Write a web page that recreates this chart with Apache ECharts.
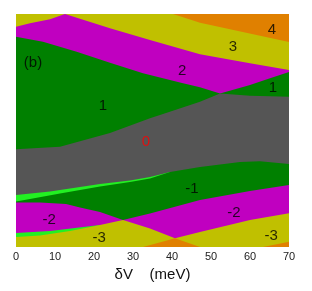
<!DOCTYPE html>
<html><head><meta charset="utf-8">
<script src="https://cdn.jsdelivr.net/npm/echarts@6/dist/echarts.min.js"></script>
<style>html,body{margin:0;padding:0;background:#fff}#c{width:312px;height:291px}</style>
</head><body><div id="c"></div>
<script>
// x in meV, y in arbitrary units (0 = bottom, 233 = top of panel)
const xTicks = [0, 10, 20, 30, 40, 50, 60, 70];
// upper edge of each region (region fills down to bottom, later ones paint over)
const top4   = [[0,233],[70,233]];
const top3   = [[0,233],[40.26,233],[47.18,224.3],[58.72,214.5],[70,205]];
const top2   = [[0,220.3],[3.59,223.7],[8.72,227.7],[12.56,233],[24.10,218.7],[34.36,207],[47.18,192.7],[60,183.7],[70,177]];
const top1   = [[0,210.3],[6.92,205.3],[15.56,195.3],[24.10,184.3],[32.56,173.7],[42.56,164],[47.18,159.7],[52.31,153.5],[60,162],[65.13,168.7],[70,175]];
const top0   = [[0,97.7],[11.28,100.3],[24.10,114],[34.36,128.7],[36.92,132],[47.18,145.3],[52.31,153.5],[60,151.3],[70,150.3]];
const topLimeA = [[0,52],[8.72,55.5],[21.54,63],[29.23,66.5],[34.36,70],[39.49,75]];
const topM1  = [[0,45.5],[3.59,48],[11.28,53.5],[21.54,60.5],[29.23,65],[34.36,68.5],[39.49,75],[47.18,80],[57.44,85],[62.56,85.7],[70,83]];
const topM2  = [[0,44.5],[6.15,44.5],[12.82,43],[16.41,39.5],[21.54,35],[27.44,27],[34.36,33.5],[47.18,47],[60,56],[70,62]];
const topLimeB = [[0,14],[8.72,16],[21.54,22]];
const topM3  = [[0,10],[6.15,11.5],[13.85,16],[19.74,20.5],[21.54,22],[27.44,27],[34.36,18.5],[40.77,8.7],[47.18,15],[60,27],[70,33.7]];
const topM4  = [[32.56,0],[40.77,8.7],[47.18,0],[63.33,0],[70,5.3]];

const regionLabels = [
  ['(b)', 4.36, 184], ['4', 65.6, 217], ['3', 55.6, 200], ['2', 42.6, 176],
  ['1', 22.3, 141], ['1', 65.9, 159], ['0', 33.3, 105], ['-1', 45.1, 58],
  ['-2', 8.5, 27], ['-2', 55.9, 34], ['-3', 21.3, 9], ['-3', 65.4, 11]
];

const C = {orange:'#E08000', yellow:'#C0C000', magenta:'#C000C0', green:'#008000', gray:'#555555', lime:'#22F022'};
const layers = [
  [top4, C.orange], [top3, C.yellow], [top2, C.magenta], [top1, C.green], [top0, C.gray],
  [topLimeA, C.lime], [topM1, C.green], [topM2, C.magenta], [topLimeB, C.lime],
  [topM3, C.yellow], [topM4, C.orange]
];
const FONT = 'Liberation Sans, Arial, sans-serif';
const series = layers.map(([d, col]) => ({
  type: 'line', data: d, symbol: 'none', silent: true,
  lineStyle: {width: 0}, areaStyle: {color: col, opacity: 1}
}));
series.push({
  type: 'scatter', symbol: 'circle', symbolSize: 1, silent: true, z: 5,
  itemStyle: {color: 'rgba(0,0,0,0)'},
  data: regionLabels.map(([t, x, y]) => ({
    name: t, value: [x, y],
    label: {color: t === '0' ? '#ff0000' : '#000'}
  })),
  label: {show: true, position: 'inside', formatter: p => p.name, fontSize: 15, fontFamily: FONT},
  labelLayout: {hideOverlap: false}
});

const chart = echarts.init(document.getElementById('c'), null, {renderer: 'canvas'});
chart.setOption({
  animation: false,
  grid: {left: 16, right: 23, top: 14, bottom: 44, containLabel: false},
  xAxis: {type: 'value', min: xTicks[0], max: xTicks[xTicks.length-1], interval: 10,
    axisLine: {show: false}, axisTick: {show: false}, splitLine: {show: false},
    axisLabel: {fontSize: 11, color: '#222', margin: 4, fontFamily: FONT},
    name: 'δV    (meV)', nameLocation: 'middle', nameGap: 18,
    nameTextStyle: {fontSize: 15, color: '#111', fontFamily: FONT}},
  yAxis: {type: 'value', min: 0, max: 233, show: false},
  series: series
});
</script></body></html>
